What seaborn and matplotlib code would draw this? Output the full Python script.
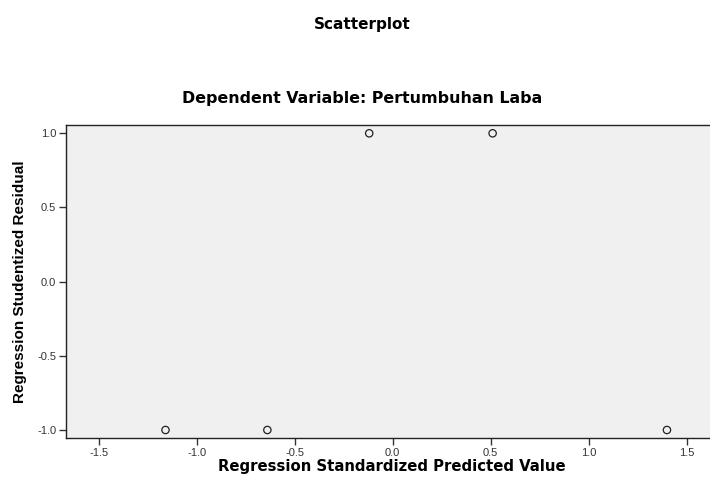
import numpy as np
import pandas as pd
import matplotlib
matplotlib.use("Agg")
import matplotlib.pyplot as plt
import seaborn as sns

# data
predicted = [-1.16, -0.64, -0.12, 0.51, 1.40]
residual = [-1.0, -1.0, 1.0, 1.0, -1.0]
x_ticks = [-1.5, -1.0, -0.5, 0.0, 0.5, 1.0, 1.5]
y_ticks = [-1.0, -0.5, 0.0, 0.5, 1.0]

df = pd.DataFrame({"pred": predicted, "resid": residual})

sns.set_style("ticks")
plt.rcParams['font.family'] = ['Liberation Sans', 'DejaVu Sans']

fig = plt.figure(figsize=(7.1, 4.82), dpi=100)
ax = fig.add_axes([66 / 710, 1 - 438 / 482, 1 - 66 / 710 + 0.01, (438 - 125) / 482])
ax.set_facecolor('#f0f0f0')

sns.scatterplot(data=df, x="pred", y="resid", ax=ax, marker='o', s=28,
                facecolor='none', edgecolor='#222222', linewidth=0.9)

ax.set_xlim(-1.668, 1.656)
ax.set_ylim(-1.054, 1.056)
ax.set_xticks(x_ticks)
ax.set_yticks(y_ticks)
ax.set_xticklabels([f"{v:.1f}" for v in x_ticks])
ax.set_yticklabels([f"{v:.1f}" for v in y_ticks])
ax.tick_params(axis='both', which='major', direction='out', length=5, width=1.0,
               color='#333333', labelsize=8, labelcolor='#333333', pad=2,
               bottom=True, left=True, top=False, right=False)

for side in ['left', 'bottom', 'top']:
    ax.spines[side].set_visible(True)
    ax.spines[side].set_color('#222222')
    ax.spines[side].set_linewidth(1.0)
ax.spines['right'].set_visible(False)

# the reference looks stretched sideways, so the wider DejaVu Sans is used for horizontal text
ax.set_xlabel('Regression Standardized Predicted Value', fontsize=10.7, fontweight='bold',
              family=['DejaVu Sans'], labelpad=1, color='black')
ax.set_ylabel('Regression Studentized Residual', fontsize=11, fontweight='bold', labelpad=7,
              color='black')

fig.text(362 / 710, 1 - 24 / 482, 'Scatterplot', ha='center', va='center',
         fontsize=11, fontweight='bold', family=['DejaVu Sans'], color='black')
fig.text(362 / 710, 1 - 98 / 482, 'Dependent Variable: Pertumbuhan Laba', ha='center', va='center',
         fontsize=11.4, fontweight='bold', family=['DejaVu Sans'], color='black')

fig.savefig('out.png', dpi=100)
